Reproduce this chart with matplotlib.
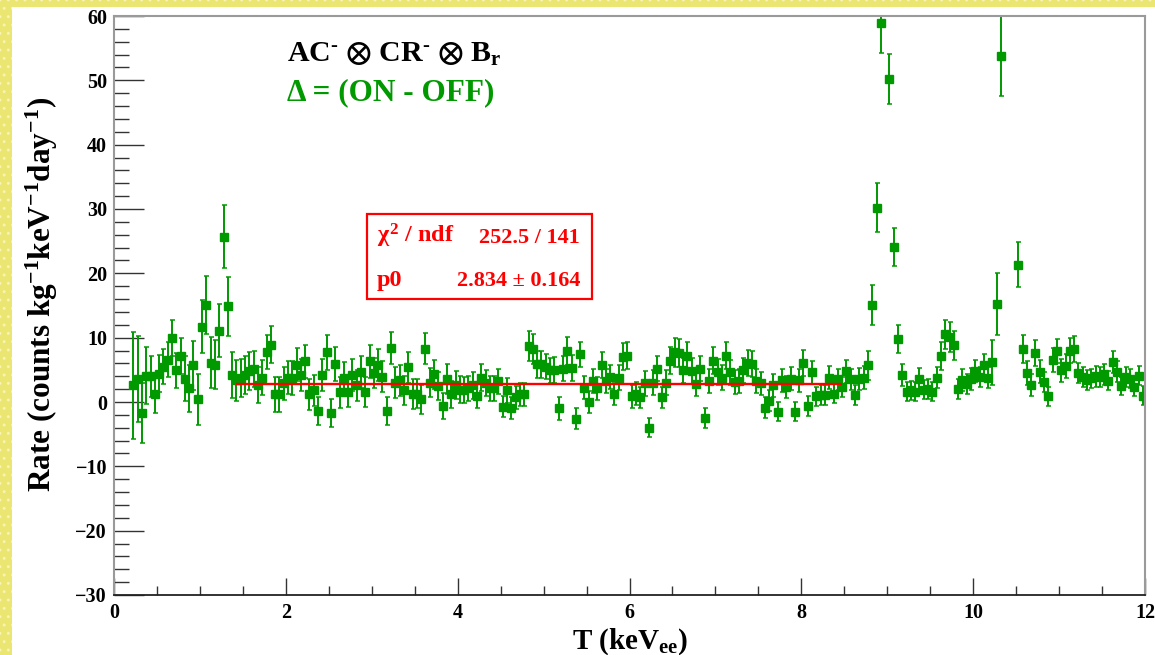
import numpy as np
import matplotlib
matplotlib.use("Agg")
import matplotlib.pyplot as plt
from matplotlib.patches import Rectangle
from matplotlib.ticker import MultipleLocator

# ---- data: ON - OFF residual spectrum, 0.05 keV bins starting at 0.225 keV ----
bin_width = 0.05
first_bin_center = 0.225

rate_0_2 = [2.6, 3.6, -1.7, 4.1, 4.0, 1.2, 4.4, 5.5, 6.6, 9.9, 4.9, 7.2, 3.6, 2.1, 5.7, 0.4,
            11.7, 15.1, 6.1, 5.8, 11.1, 25.7, 14.9, 4.2, 3.4, 3.7, 4.2, 4.8, 5.2, 2.7, 3.8, 7.8,
            8.9, 1.2, 1.2, 2.9]
err_0_2 = [8.3, 6.7, 4.6, 4.4, 3.2, 2.9, 2.9, 2.7, 2.7, 2.8, 2.7, 2.8, 3.5, 3.7, 3.8, 3.9,
           4.1, 4.5, 4.0, 3.8, 4.1, 4.9, 4.6, 3.6, 3.2, 3.0, 3.0, 2.9, 2.8, 2.8, 2.7, 2.6,
           2.9, 2.7, 2.7, 2.6]

rate_2_4 = [3.8, 3.7, 5.8, 4.2, 6.3, 1.2, 1.8, -1.4, 4.2, 7.7, -1.7, 5.9, 1.5, 3.7, 1.6, 4.2,
            2.6, 4.7, 1.6, 6.3, 4.5, 5.8, 3.9, -1.4, 8.4, 3.0, 3.4, 1.8, 5.4, 1.2, 1.3, 0.4,
            8.3, 3.0, 4.3, 2.5, -0.6, 3.6, 1.2, 2.6]
err_2_4 = [2.6, 2.6, 2.6, 2.5, 2.6, 2.4, 2.4, 2.2, 2.5, 2.7, 2.2, 2.6, 2.4, 2.5, 2.4, 2.5,
           2.4, 2.5, 2.3, 2.6, 2.4, 2.5, 2.4, 2.1, 2.5, 2.4, 2.4, 2.3, 2.4, 2.3, 2.3, 2.2,
           2.4, 2.3, 2.3, 2.2, 2.0, 2.3, 2.1, 2.2]

rate_4_6 = [1.9, 1.9, 2.1, 2.6, 0.9, 3.8, 2.9, 2.1, 2.1, 3.2, -0.7, 1.8, -1.0, 0.7, 1.2, 1.2,
            8.7, 8.2, 5.9, 5.9, 5.5, 4.9, 5.0, -1.0, 5.2, 7.9, 5.3, -2.6, 7.4, 2.2, 0.0, 3.3,
            2.1, 5.8, 3.3, 3.9, 1.2, 3.8, 7.0, 7.2]
err_4_6 = [2.1, 2.0, 2.0, 2.1, 1.9, 2.1, 2.0, 2.0, 2.0, 2.0, 1.7, 1.9, 1.7, 1.8, 1.8, 1.8,
           2.3, 2.3, 2.1, 2.1, 2.0, 2.0, 2.0, 1.8, 2.0, 2.2, 2.0, 1.6, 2.0, 1.8, 1.7, 1.9,
           1.8, 2.0, 1.9, 1.9, 1.7, 1.9, 2.1, 2.1]

rate_6_8 = [0.9, 1.3, 0.7, 2.9, -4.0, 3.0, 5.2, 0.7, 3.0, 6.4, 7.7, 7.6, 4.9, 7.2, 4.8, 2.8,
            5.2, -2.5, 3.3, 6.4, 4.7, 3.8, 7.2, 4.6, 3.1, 3.3, 4.9, 6.1, 5.9, 3.3, 2.9, -0.9,
            0.2, 2.6, -1.5, 3.4, 2.3, 3.6, -1.5, 3.4]
err_6_8 = [1.8, 1.8, 1.7, 1.9, 1.5, 1.9, 2.0, 1.7, 1.9, 2.1, 2.2, 2.2, 2.0, 2.1, 2.0, 1.9,
           2.0, 1.5, 1.9, 2.1, 2.0, 1.9, 2.1, 2.0, 1.9, 1.9, 2.0, 2.0, 2.0, 1.9, 1.8, 1.6,
           1.6, 1.8, 1.5, 1.8, 1.7, 1.8, 1.5, 1.8]

# bins above the frame (peak tops) are left empty
rate_8_10 = [6.1, -0.6, 4.6, 0.9, 1.1, 1.1, 3.8, 1.3, 3.5, 2.3, 4.8, 3.5, 1.1, 3.6, 3.8, 5.7,
             15.1, 30.2, 58.9, np.nan, 50.2, 24.1, 9.8, 4.2, 1.6, 1.8, 1.6, 3.6, 1.9, 2.0, 1.6, 3.8,
             7.2, 10.5, 10.1, 8.8, 2.0, 3.4, 2.8, 3.6]
err_8_10 = [2.0, 1.5, 1.8, 1.5, 1.5, 1.5, 1.8, 1.5, 1.7, 1.6, 1.8, 1.7, 1.5, 1.7, 1.8, 2.3,
            3.1, 3.8, 4.6, np.nan, 3.9, 2.9, 2.2, 1.7, 1.5, 1.5, 1.5, 1.7, 1.5, 1.5, 1.5, 1.7,
            2.2, 2.3, 2.3, 2.2, 1.5, 1.7, 1.6, 1.7]

rate_10_12 = [4.8, 3.9, 5.7, 3.8, 6.2, 15.2, 53.8, np.nan, np.nan, np.nan, 21.3, 8.2, 4.5, 2.7, 7.6, 4.7,
              3.1, 0.9, 6.5, 7.9, 4.9, 5.6, 8.0, 8.2, 4.5, 3.9, 3.4, 3.7, 4.0, 3.9, 4.3, 3.3,
              6.2, 4.7, 2.5, 3.9, 3.6, 2.3, 4.1, 1.0]
err_10_12 = [1.7, 1.6, 1.8, 1.6, 3.5, 4.8, 6.3, np.nan, np.nan, np.nan, 3.5, 2.2, 1.9, 1.7, 2.0, 1.8,
             1.6, 1.5, 1.9, 1.9, 1.8, 1.8, 1.9, 2.0, 1.6, 1.6, 1.5, 1.5, 1.6, 1.5, 1.6, 1.5,
             1.7, 1.6, 1.4, 1.5, 1.5, 1.4, 1.5, 1.5]

# constant fit (pol0) over the flat region
fit_lo, fit_hi = 1.425, 8.475
p0, p0_err = 2.834, 0.164
chi2, ndf = 252.5, 141

x_ticks = [0, 2, 4, 6, 8, 10, 12]
y_ticks = [-30, -20, -10, 0, 10, 20, 30, 40, 50, 60]

rate = np.array(rate_0_2 + rate_2_4 + rate_4_6 + rate_6_8 + rate_8_10 + rate_10_12, dtype=float)
err = np.array(err_0_2 + err_2_4 + err_4_6 + err_6_8 + err_8_10 + err_10_12, dtype=float)
energy = first_bin_center + bin_width * np.arange(len(rate))

# ---- styling ----
plt.rcParams["font.family"] = ["Liberation Serif", "DejaVu Serif"]
plt.rcParams["font.weight"] = "bold"
plt.rcParams["mathtext.fontset"] = "custom"
plt.rcParams["mathtext.rm"] = "Liberation Serif:bold"
plt.rcParams["mathtext.it"] = "Liberation Serif:bold"
plt.rcParams["mathtext.bf"] = "Liberation Serif:bold"
plt.rcParams["mathtext.fallback"] = "stix"

W, H = 1155, 655
fig = plt.figure(figsize=(W / 100, H / 100), dpi=100)
fig.patch.set_facecolor("#ebe571")

# textured yellow canvas and the white pad on top of it
fig.patches.append(Rectangle((0, 0), 1, 1, transform=fig.transFigure, facecolor="#ebe571",
                             edgecolor="#f7f3b2", hatch="..", lw=0, zorder=-10))
fig.patches.append(Rectangle((12 / W, 0), 1 - 12 / W, 1 - 7 / H, transform=fig.transFigure,
                             facecolor="white", edgecolor="none", zorder=-5))

ax = fig.add_axes([114 / W, (H - 595) / H, (1145 - 114) / W, (595 - 16) / H])
ax.set_facecolor("white")
ax.set_xlim(0, 12)
ax.set_ylim(-30, 60)

green = "#009900"
ax.errorbar(energy, rate, yerr=err, fmt="s", ms=6.0, color=green, mec=green, ecolor=green,
            elinewidth=1.4, capsize=1.8, capthick=1.1, zorder=2)

ax.hlines(p0, fit_lo, fit_hi, colors="#ff0000", lw=1.7, zorder=3)

# axes, ticks
ax.xaxis.set_minor_locator(MultipleLocator(0.5))
ax.yaxis.set_minor_locator(MultipleLocator(2))
ax.set_xticks(x_ticks)
ax.set_yticks(y_ticks)
ax.set_xticklabels([str(t) for t in x_ticks])
ax.set_yticklabels([str(t).replace("-", "\u2212") for t in y_ticks])
ax.tick_params(axis="both", which="both", direction="in", color="#333333", width=1.0,
               labelsize=14.5, top=False, right=False)
ax.tick_params(axis="y", which="major", length=21.5, pad=5)
ax.tick_params(axis="y", which="minor", length=10.8)
ax.tick_params(axis="x", which="major", length=12.2, pad=6)
ax.tick_params(axis="x", which="minor", length=6.5)
for lab in ax.get_xticklabels() + ax.get_yticklabels():
    lab.set_fontweight("bold")

for side in ("left", "top", "right"):
    ax.spines[side].set_color("#9a9a9a")
    ax.spines[side].set_linewidth(1.5)
ax.spines["bottom"].set_color("#222222")
ax.spines["bottom"].set_linewidth(1.3)

fig.text(42 / W, 1 - 294 / H, r"Rate (counts kg$^{-1}$keV$^{-1}$day$^{-1}$)", rotation=90,
         ha="center", va="center", fontsize=22.5, fontweight="bold")
fig.text(630 / W, 1 - 649 / H, r"T (keV$_{ee}$)", ha="center", va="baseline",
         fontsize=21, fontweight="bold")

# annotations
fig.text(287 / W, 1 - 62 / H, r"AC$^{\text{-}}$ $\otimes$ CR$^{\text{-}}$ $\otimes$ B$_{r}$",
         ha="left", va="baseline", fontsize=21.5, fontweight="bold", color="black")
fig.text(287 / W, 1 - 100 / H, "\u0394 = (ON - OFF)", ha="left", va="baseline",
         fontsize=22.5, fontweight="bold", color=green)

# fit statistics box
red = "#ff0000"
fig.patches.append(Rectangle((367 / W, 1 - 299 / H), (592 - 367) / W, (299 - 214) / H,
                             transform=fig.transFigure, facecolor="white",
                             edgecolor=red, lw=1.6, zorder=5))
fig.text(377 / W, 1 - 243 / H, r"$\chi^{2}$ / ndf", ha="left", va="baseline",
         fontsize=17.5, fontweight="bold", color=red, zorder=6)
fig.text(580 / W, 1 - 243 / H, f"{chi2:.1f} / {ndf}", ha="right", va="baseline",
         fontsize=16, fontweight="bold", color=red, zorder=6)
fig.text(377 / W, 1 - 286 / H, "p0", ha="left", va="baseline",
         fontsize=17.5, fontweight="bold", color=red, zorder=6)
fig.text(580 / W, 1 - 286 / H, f"{p0:.3f} \u00b1 {p0_err:.3f}", ha="right", va="baseline",
         fontsize=16, fontweight="bold", color=red, zorder=6)

fig.savefig("out.png", dpi=100, facecolor=fig.get_facecolor())
